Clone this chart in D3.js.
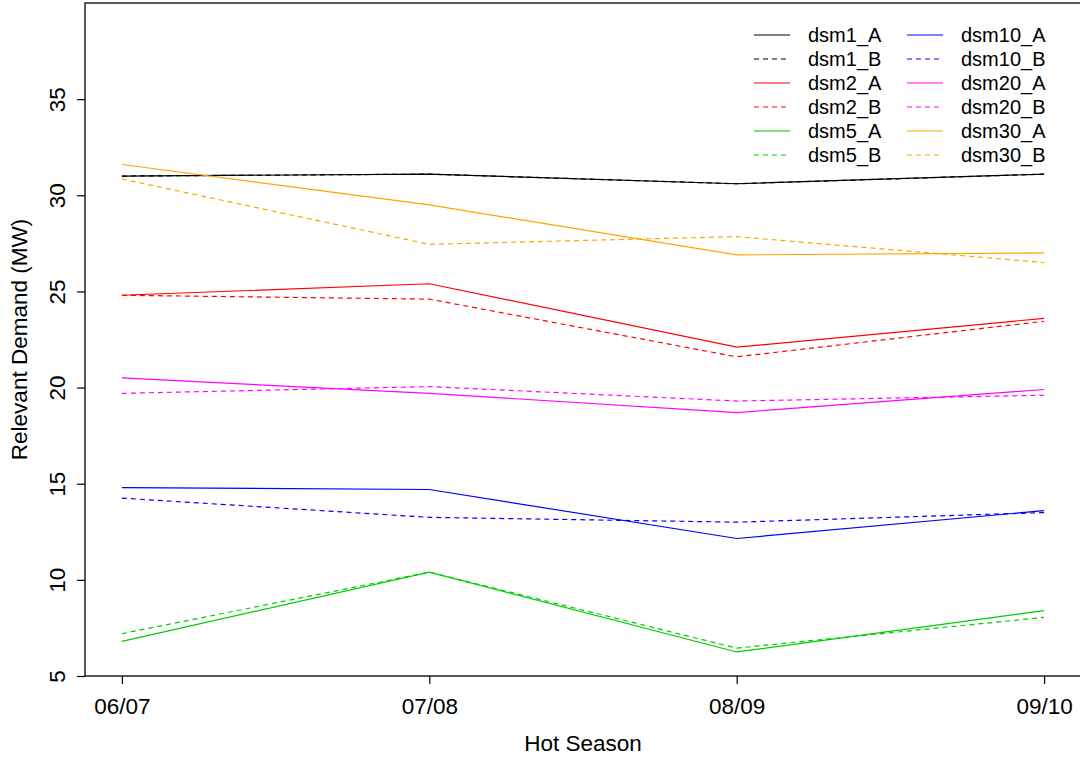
<!DOCTYPE html>
<html>
<head>
<meta charset="utf-8">
<script src="https://cdn.jsdelivr.net/npm/d3@7"></script>
<style>
  body { margin: 0; background: #fff; }
  text { font-family: "Liberation Sans", Arial, Helvetica, sans-serif; fill: #000; }
</style>
</head>
<body>
<svg id="chart" width="1080" height="758"></svg>
<script>
// seasons on the x axis
var seasons = ["06/07", "07/08", "08/09", "09/10"];
var yTicks = [5, 10, 15, 20, 25, 30, 35];

// values (MW)
var dsm1_A  = [31.0, 31.1, 30.6, 31.1];
var dsm1_B  = [31.0, 31.1, 30.6, 31.1];
var dsm2_A  = [24.8, 25.4, 22.1, 23.6];
var dsm2_B  = [24.8, 24.6, 21.6, 23.45];
var dsm5_A  = [6.8, 10.4, 6.25, 8.4];
var dsm5_B  = [7.2, 10.4, 6.45, 8.05];
var dsm10_A = [14.8, 14.7, 12.15, 13.6];
var dsm10_B = [14.25, 13.25, 13.0, 13.5];
var dsm20_A = [20.5, 19.7, 18.7, 19.9];
var dsm20_B = [19.7, 20.05, 19.3, 19.6];
var dsm30_A = [31.6, 29.5, 26.9, 27.0];
var dsm30_B = [30.85, 27.45, 27.85, 26.5];

var seriesNames = ["dsm1_A", "dsm1_B", "dsm2_A", "dsm2_B", "dsm5_A", "dsm5_B",
                   "dsm10_A", "dsm10_B", "dsm20_A", "dsm20_B", "dsm30_A", "dsm30_B"];
var seriesValues = [dsm1_A, dsm1_B, dsm2_A, dsm2_B, dsm5_A, dsm5_B,
                    dsm10_A, dsm10_B, dsm20_A, dsm20_B, dsm30_A, dsm30_B];
var seriesColors = ["#000000", "#000000", "#ff0000", "#ff0000", "#00cd00", "#00cd00",
                    "#0000ff", "#0000ff", "#ff00ff", "#ff00ff", "#ffa500", "#ffa500"];

var series = seriesNames.map(function(n, i) {
    return { name: n, values: seriesValues[i], color: seriesColors[i], dashed: n.slice(-1) === "B" };
});

var svg = d3.select("#chart");
// plot region (note: "top" is taken by window.top, so use pTop)
var pLeft = 85, pRight = 1081, pTop = 3, pBottom = 676;

// R style: 4% padding on x, fixed 5..40 on y
var x = d3.scaleLinear().domain([0.88, 4.12]).range([pLeft, pRight]);
var y = d3.scaleLinear().domain([5, 40]).range([pBottom, pTop]);

// lines
var line = d3.line()
    .x(function(d, i) { return x(i + 1); })
    .y(function(d) { return y(d); });

svg.append("g").selectAll("path")
    .data(series)
    .enter().append("path")
    .attr("d", function(s) { return line(s.values); })
    .attr("fill", "none")
    .attr("stroke", function(s) { return s.color; })
    .attr("stroke-width", 1.2)
    .attr("stroke-dasharray", function(s) { return s.dashed ? "5,4" : null; });

// box
svg.append("rect")
    .attr("x", pLeft).attr("y", pTop)
    .attr("width", pRight - pLeft).attr("height", pBottom - pTop)
    .attr("fill", "none").attr("stroke", "#000").attr("stroke-width", 1.3);

// x axis
var xAxis = svg.append("g")
    .attr("transform", "translate(0," + pBottom + ")")
    .call(d3.axisBottom(x).tickValues([1, 2, 3, 4])
        .tickFormat(function(d) { return seasons[d - 1]; })
        .tickSize(8).tickPadding(14));
xAxis.select(".domain").remove();
xAxis.selectAll("line").attr("stroke", "#000").attr("stroke-width", 1.2);
xAxis.selectAll("text").attr("font-size", 22.5).attr("font-family", null).attr("fill", "#000");

// y axis
var yAxis = svg.append("g")
    .attr("transform", "translate(" + pLeft + ",0)")
    .call(d3.axisLeft(y).tickValues(yTicks).tickSize(8));
yAxis.select(".domain").remove();
yAxis.selectAll("line").attr("stroke", "#000").attr("stroke-width", 1.2);
yAxis.selectAll("text")
    .attr("font-size", 22.5).attr("font-family", null).attr("fill", "#000")
    .attr("transform", "translate(-20,0) rotate(-90)")
    .attr("x", 0).attr("y", 0).attr("dy", 0)
    .attr("text-anchor", "middle");

// axis titles
svg.append("text")
    .attr("x", 583)
    .attr("y", 751)
    .attr("text-anchor", "middle")
    .attr("font-size", 22.5)
    .text("Hot Season");

svg.append("text")
    .attr("transform", "translate(27," + (pTop + pBottom) / 2 + ") rotate(-90)")
    .attr("text-anchor", "middle")
    .attr("font-size", 22.5)
    .text("Relevant Demand (MW)");

// legend, two columns of six
var legend = svg.append("g");
var items = legend.selectAll("g")
    .data(series)
    .enter().append("g")
    .attr("transform", function(s, i) {
        var col = Math.floor(i / 6), row = i % 6;
        return "translate(" + (754 + col * 153) + "," + (35 + row * 24) + ")";
    });
items.append("line")
    .attr("x1", 0).attr("x2", 36)
    .attr("stroke", function(s) { return s.color; })
    .attr("stroke-width", 1.2)
    .attr("stroke-dasharray", function(s) { return s.dashed ? "5,4" : null; });
items.append("text")
    .attr("x", 54).attr("y", 0)
    .attr("dy", "0.35em")
    .attr("font-size", 20)
    .text(function(s) { return s.name; });
</script>
</body>
</html>
